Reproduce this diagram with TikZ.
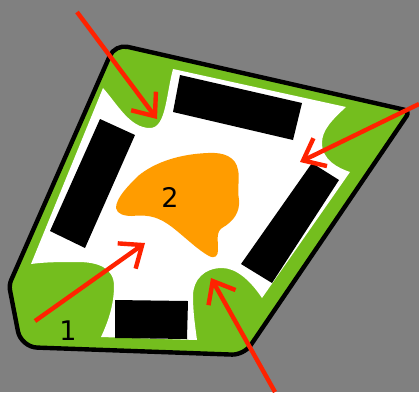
\documentclass[tikz,border=0pt]{standalone}
\usepackage{fontspec}
\setmainfont{DejaVu Sans}
\usetikzlibrary{arrows.meta}
\definecolor{bggrey}{HTML}{808080}
\definecolor{padgreen}{HTML}{74BE1E}
\definecolor{blobor}{HTML}{FF9C00}
\definecolor{arrred}{HTML}{FF2200}

\begin{document}
\begin{tikzpicture}[
  x=1pt, y=-1pt,
  shell/.style={draw=black, fill=padgreen, line width=4.4pt, line join=round},
  floorzone/.style={fill=white},
  block/.style={fill=black},
  lbl/.style={font=\fontsize{27}{27}\selectfont, inner sep=0pt},
  arr/.style={draw=arrred, line width=4.4pt, -{Straight Barb[length=19pt,width=31pt,line width=4.4pt]}}
]
\useasboundingbox (0,0) rectangle (419,392);
\fill[bggrey] (0,0) rectangle (419,392);

% Outer wall with the green rim.
\draw[shell, rounded corners=13pt] (115,44) [rounded corners=6pt] -- (410,111)
  [rounded corners=12pt] -- (244,355) [rounded corners=16pt] -- (21,347)
  [rounded corners=5pt] -- (9,285) [rounded corners=13pt] -- cycle;

% White floor, the corners are cut by green humps.
\fill[floorzone] (31,264) -- (103,88)
  .. controls (118,105) and (130,128) .. (150,128)
  .. controls (166,128) and (166,95) .. (173,69)
  -- (346,107)
  .. controls (332,120) and (322,130) .. (322,143)
  .. controls (322,160) and (338,168) .. (350,172)
  -- (262,298)
  .. controls (250,280) and (236,268) .. (222,268)
  .. controls (204,268) and (193,280) .. (193,296)
  .. controls (193,312) and (195,325) .. (197,340)
  -- (101,337)
  .. controls (108,322) and (114,305) .. (114,286)
  .. controls (114,268) and (98,262) .. (78,262)
  .. controls (60,262) and (45,262) .. (31,264) -- cycle;

% Black blocks along the four sides.
\fill[block] (180,75) -- (302,103) -- (293,140) -- (173,112) -- cycle;
\fill[block] (100,119) -- (135,135) -- (85,248) -- (50,231) -- cycle;
\fill[block] (312,163) -- (339,180) -- (272,283) -- (241,264) -- cycle;
\fill[block] (115,300) -- (188,301) -- (187,339) -- (115,338) -- cycle;

% Orange blob in the middle.
\fill[blobor] (116,208)
  .. controls (117,214) and (124,216) .. (132,216)
  .. controls (150,214) and (160,218) .. (172,227)
  .. controls (186,238) and (198,250) .. (209,256)
  .. controls (215,259) and (218,256) .. (218,250)
  .. controls (218,240) and (216,232) .. (222,228)
  .. controls (234,221) and (240,212) .. (239,200)
  .. controls (237,188) and (240,178) .. (238,170)
  .. controls (236,157) and (224,152) .. (208,153)
  .. controls (180,154) and (155,162) .. (138,176)
  .. controls (128,186) and (116,198) .. (116,208) -- cycle;

% Labels.
\node[lbl] (one) at (68,331) {1};
\node[lbl] (two) at (170,197) {2};

% Red arrows.
\coordinate (corner1s) at (35,321);
\coordinate (corner1e) at (145,243);
\coordinate (corner2s) at (77,12);
\coordinate (corner2e) at (157,119);
\coordinate (corner3s) at (419,104);
\coordinate (corner3e) at (300,162);
\coordinate (corner4s) at (275,392);
\coordinate (corner4e) at (211,278);
\draw[arr] (corner1s) -- (corner1e);
\draw[arr] (corner2s) -- (corner2e);
\draw[arr] (corner3s) -- (corner3e);
\draw[arr] (corner4s) -- (corner4e);
\end{tikzpicture}
\end{document}
